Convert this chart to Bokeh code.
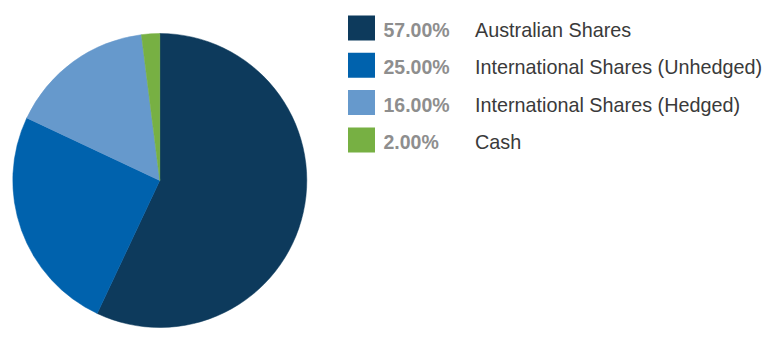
import numpy as np
from bokeh.plotting import figure
from bokeh.models import ColumnDataSource, Range1d
from bokeh.core.properties import value
from bokeh.embed import file_html
from bokeh.resources import INLINE

categories = ["Australian Shares", "International Shares (Unhedged)",
              "International Shares (Hedged)", "Cash"]
shares = [57.0, 25.0, 16.0, 2.0]
colors = ["#0d3a5c", "#0062ad", "#6699cc", "#77b043"]

W, H = 784, 358
p = figure(width=W, height=H, output_backend="svg", toolbar_location=None,
           x_range=Range1d(0, W), y_range=Range1d(0, H), min_border=0,
           outline_line_color=None)
p.axis.visible = False
p.grid.visible = False
p.background_fill_color = "white"
p.border_fill_color = "white"

# pie
frac = np.array(shares) / sum(shares)
cum = np.concatenate([[0], np.cumsum(frac)])
start = np.pi / 2 - 2 * np.pi * cum[:-1]
end = np.pi / 2 - 2 * np.pi * cum[1:]
cx, cy, r = 159.3, H - 180.0, 147.0
src = ColumnDataSource(dict(start=start, end=end, color=colors))
p.wedge(x=cx, y=cy, radius=r, start_angle="start", end_angle="end",
        direction="clock", fill_color="color", line_color="color",
        line_width=0.5, source=src)

# legend
idx = np.arange(len(categories))
sq_y = H - (27.5 + idx * 37.3)
base_y = H - (29.5 + idx * 37.3)
lsrc = ColumnDataSource(dict(
    sy=sq_y, by=base_y, color=colors,
    pct=[f"{v:.2f}%" for v in shares], label=categories))
p.rect(x=361, y="sy", width=27, height=25, fill_color="color",
       line_color=None, source=lsrc)
p.text(x=383, y="by", text="pct", text_font=value("Liberation Sans"),
       text_font_size="19.5px", text_font_style="bold", text_color="#8e8e8e",
       text_baseline="alphabetic", source=lsrc)
p.text(x=474.5, y="by", text="label", text_font=value("Liberation Sans"),
       text_font_size="19.8px", text_color="#3a3a3a",
       text_baseline="alphabetic", source=lsrc)

open("out.html", "w").write(file_html(p, INLINE))
